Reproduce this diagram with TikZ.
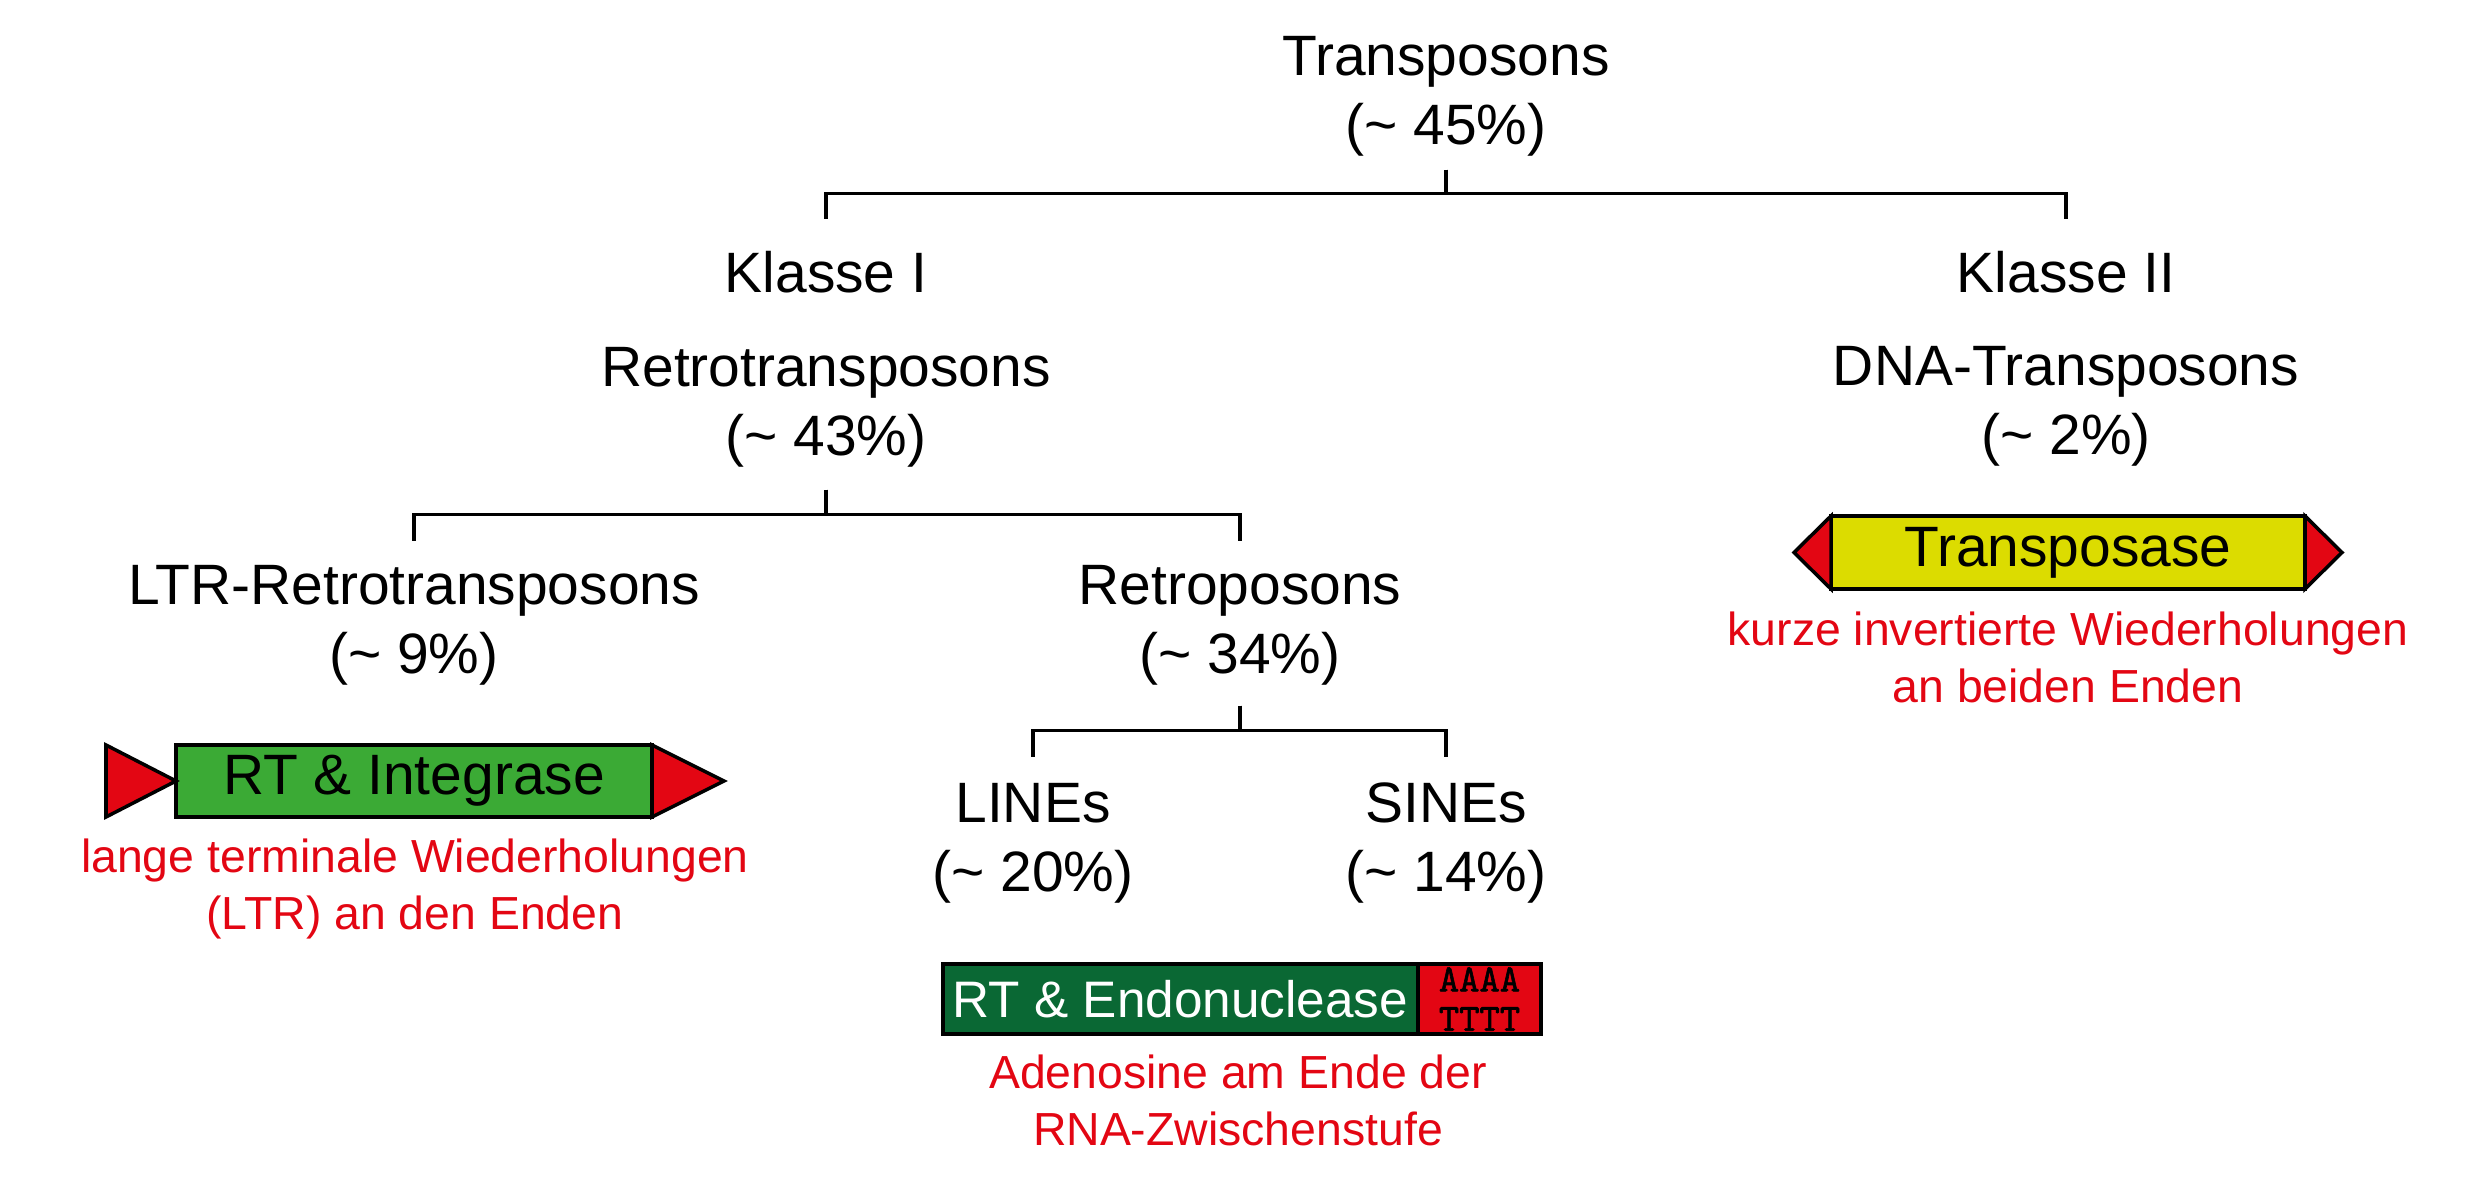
\documentclass[tikz,border=0pt]{standalone}
\usepackage{fontspec}
\setmainfont{Liberation Sans}
\newfontfamily\seqfont{Latin Modern Mono}[FakeBold=1.5]
\usepackage{xcolor}
\usetikzlibrary{positioning}

\definecolor{ltrgreen}{RGB}{59,170,53}
\definecolor{linegreen}{RGB}{10,104,52}
\definecolor{tpyellow}{RGB}{220,220,0}
\definecolor{repred}{RGB}{227,6,19}

\begin{document}
\begin{tikzpicture}[
  lbl/.style={align=center, inner sep=0pt, font=\fontsize{16.2}{19.6}\selectfont},
  note/.style={align=center, inner sep=0pt, text=repred, font=\fontsize{13.2}{16.2}\selectfont},
  gene/.style={rectangle, draw=black, line width=1pt, inner sep=0pt, outer sep=0pt,
               minimum height=0.72cm, font=\fontsize{16.2}{19.6}\selectfont},
  rep/.style={draw=black, line width=1pt, fill=repred, line join=miter},
  conn/.style={line width=1pt},
]
\useasboundingbox (0,0) rectangle (24.81,-11.81);

% --- tree labels ---
\node[lbl] (root)   at (14.46,-0.96) {Transposons\\(\textasciitilde{} 45\%)};
\node[lbl] (kl1)    at (8.26,-2.72)  {Klasse I};
\node[lbl] (kl2)    at (20.66,-2.72) {Klasse II};
\node[lbl] (retro)  at (8.26,-4.07)  {Retrotransposons\\(\textasciitilde{} 43\%)};
\node[lbl] (dna)    at (20.66,-4.06) {DNA-Transposons\\(\textasciitilde{} 2\%)};
\node[lbl] (ltr)    at (4.14,-6.25)  {LTR-Retrotransposons\\(\textasciitilde{} 9\%)};
\node[lbl] (retpos) at (12.40,-6.25) {Retroposons\\(\textasciitilde{} 34\%)};
\node[lbl] (lines)  at (10.33,-8.43) {LINEs\\(\textasciitilde{} 20\%)};
\node[lbl] (sines)  at (14.46,-8.43) {SINEs\\(\textasciitilde{} 14\%)};

% --- brackets ---
\draw[conn, shorten <=0.13cm, shorten >=0.31cm] (root.south) -- ++(0,-0.37) -| (kl1.north);
\draw[conn, shorten <=0.13cm, shorten >=0.31cm] (root.south) -- ++(0,-0.37) -| (kl2.north);
\draw[conn, shorten <=0.22cm, shorten >=0.23cm] (retro.south) -- ++(0,-0.47) -| (ltr.north);
\draw[conn, shorten <=0.22cm, shorten >=0.23cm] (retro.south) -- ++(0,-0.47) -| (retpos.north);
\draw[conn, shorten <=0.20cm, shorten >=0.25cm] (retpos.south) -- ++(0,-0.45) -| (lines.north);
\draw[conn, shorten <=0.20cm, shorten >=0.25cm] (retpos.south) -- ++(0,-0.45) -| (sines.north);

% --- LTR element ---
\node[gene, fill=ltrgreen, minimum width=4.76cm] (rtint) at (4.14,-7.81) {RT \& Integrase};
\draw[rep] ([xshift=-0.70cm]rtint.north west) -- ([xshift=-0.70cm]rtint.south west) -- (rtint.west) -- cycle;
\draw[rep] (rtint.north east) -- (rtint.south east) -- ([xshift=0.72cm]rtint.east) -- cycle;
\node[note] (ltrnote) at (4.15,-8.89) {lange terminale Wiederholungen\\(LTR) an den Enden};

% --- DNA transposon ---
\node[gene, fill=tpyellow, minimum width=4.74cm, minimum height=0.73cm] (tpase) at (20.68,-5.525) {Transposase};
\draw[rep] (tpase.north west) -- (tpase.south west) -- ([xshift=-0.37cm]tpase.west) -- cycle;
\draw[rep] (tpase.north east) -- (tpase.south east) -- ([xshift=0.37cm]tpase.east) -- cycle;
\node[note] (tpnote) at (20.68,-6.57) {kurze invertierte Wiederholungen\\an beiden Enden};

% --- LINE element ---
\node[gene, fill=linegreen, text=white, minimum width=4.75cm, minimum height=0.70cm,
      font=\fontsize{14.6}{17}\selectfont] (rtendo) at (11.805,-9.99) {RT \& Endonuclease};
\node[gene, fill=repred, minimum width=1.23cm, minimum height=0.70cm, right=0pt of rtendo,
      align=center, font=\fontsize{11}{11.2}\selectfont\seqfont] (polya) {AAAA\\TTTT};
\node[note] (linenote) at (12.38,-11.00) {Adenosine am Ende der\\RNA-Zwischenstufe};

\end{tikzpicture}
\end{document}
